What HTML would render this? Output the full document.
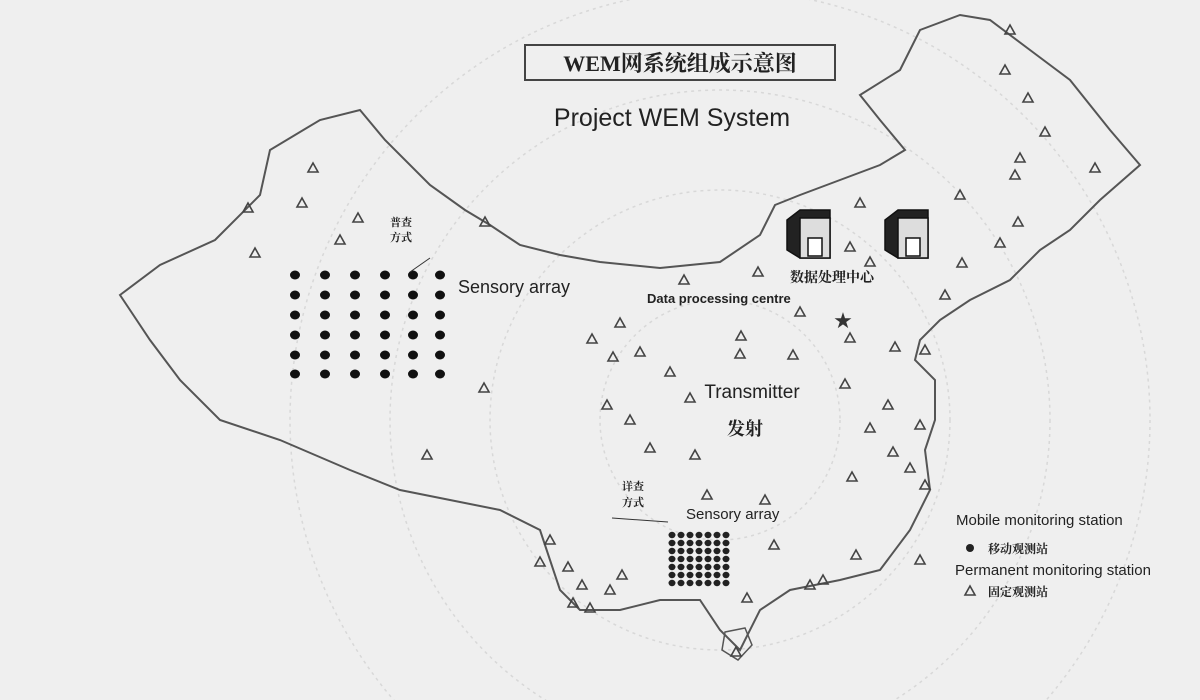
<!DOCTYPE html>
<html><head><meta charset="utf-8"><style>
html,body{margin:0;padding:0;background:#efefef;width:1200px;height:700px;overflow:hidden;}
svg{display:block;}
.en{font-family:"Liberation Sans",sans-serif;fill:#222;}
.cn{font-family:"Liberation Serif","Noto Serif CJK SC",serif;fill:#222;font-weight:bold;}
</style></head><body>
<svg width="1200" height="700" viewBox="0 0 1200 700" xmlns="http://www.w3.org/2000/svg">
<defs>
<g id="t"><path d="M0,-5 L5,4 L-5,4 Z" fill="none" stroke="#444" stroke-width="1.6"/></g>
<g id="d"><ellipse cx="0" cy="0" rx="5" ry="4.5" fill="#111"/></g>
<g id="s"><ellipse cx="0" cy="0" rx="3.5" ry="3.2" fill="#222"/></g>
</defs>
<rect width="1200" height="700" fill="#efefef"/>
<g fill="none" stroke="#d8d8d8" stroke-width="1.5" stroke-dasharray="3 4">
<circle cx="720" cy="420" r="120"/>
<circle cx="720" cy="420" r="230"/>
<circle cx="720" cy="420" r="330"/>
<circle cx="720" cy="420" r="430"/>
</g>
<path d="M120,295 L160,265 L215,240 L260,195 L270,150 L320,120 L360,110 L385,140 L430,185 L465,210 L490,225 L520,245 L560,255 L600,262 L660,268 L720,262 L760,235 L775,205 L800,195 L840,180 L880,165 L905,150 L880,120 L860,95 L900,70 L920,30 L960,15 L990,20 L1030,50 L1070,80 L1110,130 L1140,165 L1100,200 L1070,230 L1040,250 L1010,280 L970,300 L940,320 L920,340 L915,360 L935,380 L935,420 L925,450 L930,490 L910,530 L880,570 L840,580 L790,590 L760,610 L740,650 L720,630 L700,600 L660,600 L620,610 L580,610 L560,590 L550,560 L540,530 L500,510 L450,500 L400,490 L350,470 L280,440 L220,420 L180,380 L150,340 Z" fill="none" stroke="#555" stroke-width="2"/>
<path d="M725,632 L745,628 L752,645 L738,660 L722,650 Z" fill="none" stroke="#555" stroke-width="1.5"/>
<rect x="525" y="45" width="310" height="35" fill="none" stroke="#444" stroke-width="2"/>
<text x="680" y="71" class="cn" font-size="22" text-anchor="middle">WEM网系统组成示意图</text>
<text x="672" y="126" class="en" font-size="25" text-anchor="middle">Project WEM System</text>
<g>
<use href="#t" x="313" y="168"/><use href="#t" x="248" y="208"/><use href="#t" x="302" y="203"/><use href="#t" x="358" y="218"/><use href="#t" x="340" y="240"/><use href="#t" x="255" y="253"/><use href="#t" x="485" y="222"/><use href="#t" x="484" y="388"/><use href="#t" x="427" y="455"/>
<use href="#t" x="1010" y="30"/><use href="#t" x="1005" y="70"/><use href="#t" x="1028" y="98"/><use href="#t" x="1045" y="132"/><use href="#t" x="1020" y="158"/><use href="#t" x="1015" y="175"/><use href="#t" x="1095" y="168"/><use href="#t" x="960" y="195"/><use href="#t" x="1018" y="222"/><use href="#t" x="1000" y="243"/><use href="#t" x="962" y="263"/><use href="#t" x="945" y="295"/><use href="#t" x="860" y="203"/><use href="#t" x="850" y="247"/><use href="#t" x="870" y="262"/>
<use href="#t" x="684" y="280"/><use href="#t" x="758" y="272"/><use href="#t" x="800" y="312"/><use href="#t" x="620" y="323"/><use href="#t" x="592" y="339"/><use href="#t" x="741" y="336"/><use href="#t" x="740" y="354"/><use href="#t" x="850" y="338"/><use href="#t" x="613" y="357"/><use href="#t" x="640" y="352"/><use href="#t" x="670" y="372"/><use href="#t" x="793" y="355"/><use href="#t" x="895" y="347"/><use href="#t" x="925" y="350"/>
<use href="#t" x="607" y="405"/><use href="#t" x="630" y="420"/><use href="#t" x="690" y="398"/><use href="#t" x="845" y="384"/><use href="#t" x="888" y="405"/><use href="#t" x="870" y="428"/><use href="#t" x="920" y="425"/><use href="#t" x="650" y="448"/><use href="#t" x="695" y="455"/><use href="#t" x="893" y="452"/><use href="#t" x="910" y="468"/><use href="#t" x="852" y="477"/><use href="#t" x="925" y="485"/><use href="#t" x="707" y="495"/><use href="#t" x="765" y="500"/>
<use href="#t" x="550" y="540"/><use href="#t" x="540" y="562"/><use href="#t" x="568" y="567"/><use href="#t" x="582" y="585"/><use href="#t" x="573" y="603"/><use href="#t" x="590" y="608"/><use href="#t" x="610" y="590"/><use href="#t" x="622" y="575"/><use href="#t" x="774" y="545"/><use href="#t" x="856" y="555"/><use href="#t" x="810" y="585"/><use href="#t" x="823" y="580"/><use href="#t" x="747" y="598"/><use href="#t" x="920" y="560"/><use href="#t" x="736" y="652"/>
</g>
<g>
<use href="#d" x="295" y="275"/><use href="#d" x="325" y="275"/><use href="#d" x="355" y="275"/><use href="#d" x="385" y="275"/><use href="#d" x="413" y="275"/><use href="#d" x="440" y="275"/>
<use href="#d" x="295" y="295"/><use href="#d" x="325" y="295"/><use href="#d" x="355" y="295"/><use href="#d" x="385" y="295"/><use href="#d" x="413" y="295"/><use href="#d" x="440" y="295"/>
<use href="#d" x="295" y="315"/><use href="#d" x="325" y="315"/><use href="#d" x="355" y="315"/><use href="#d" x="385" y="315"/><use href="#d" x="413" y="315"/><use href="#d" x="440" y="315"/>
<use href="#d" x="295" y="335"/><use href="#d" x="325" y="335"/><use href="#d" x="355" y="335"/><use href="#d" x="385" y="335"/><use href="#d" x="413" y="335"/><use href="#d" x="440" y="335"/>
<use href="#d" x="295" y="355"/><use href="#d" x="325" y="355"/><use href="#d" x="355" y="355"/><use href="#d" x="385" y="355"/><use href="#d" x="413" y="355"/><use href="#d" x="440" y="355"/>
<use href="#d" x="295" y="374"/><use href="#d" x="325" y="374"/><use href="#d" x="355" y="374"/><use href="#d" x="385" y="374"/><use href="#d" x="413" y="374"/><use href="#d" x="440" y="374"/>
</g>
<text x="390" y="226" class="cn" font-size="11">普查</text><text x="390" y="241" class="cn" font-size="11">方式</text>
<line x1="430" y1="258" x2="410" y2="272" stroke="#333" stroke-width="1"/>
<text x="458" y="293" class="en" font-size="18">Sensory array</text>
<text x="622" y="490" class="cn" font-size="11">详查</text><text x="622" y="506" class="cn" font-size="11">方式</text>
<line x1="612" y1="518" x2="668" y2="522" stroke="#333" stroke-width="1"/>
<text x="686" y="519" class="en" font-size="15">Sensory array</text>
<text x="752" y="398" class="en" font-size="19" text-anchor="middle">Transmitter</text>
<text x="745" y="435" class="cn" font-size="18" text-anchor="middle">发射</text>
<g stroke="#111" stroke-width="1.5">
<path d="M787,220 L800,210 L830,210 L830,258 L800,258 L787,250 Z" fill="#222"/><rect x="800" y="218" width="30" height="40" fill="#ddd"/><rect x="808" y="238" width="14" height="18" fill="#fff"/>
<path d="M885,220 L898,210 L928,210 L928,258 L898,258 L885,250 Z" fill="#222"/><rect x="898" y="218" width="30" height="40" fill="#ddd"/><rect x="906" y="238" width="14" height="18" fill="#fff"/>
</g>
<text x="790" y="282" class="cn" font-size="14">数据处理中心</text>
<text x="647" y="303" class="en" font-size="13" font-weight="bold">Data processing centre</text>
<text x="843" y="328" font-size="22" fill="#333" text-anchor="middle" font-family="DejaVu Sans">★</text>
<text x="956" y="525" class="en" font-size="15">Mobile monitoring station</text>
<circle cx="970" cy="548" r="4" fill="#222"/>
<text x="988" y="553" class="cn" font-size="12">移动观测站</text>
<text x="955" y="575" class="en" font-size="15">Permanent monitoring station</text>
<use href="#t" x="970" y="591"/>
<text x="988" y="596" class="cn" font-size="12">固定观测站</text>
<g>
<use href="#s" x="672" y="535"/><use href="#s" x="681" y="535"/><use href="#s" x="690" y="535"/><use href="#s" x="699" y="535"/><use href="#s" x="708" y="535"/><use href="#s" x="717" y="535"/><use href="#s" x="726" y="535"/>
<use href="#s" x="672" y="543"/><use href="#s" x="681" y="543"/><use href="#s" x="690" y="543"/><use href="#s" x="699" y="543"/><use href="#s" x="708" y="543"/><use href="#s" x="717" y="543"/><use href="#s" x="726" y="543"/>
<use href="#s" x="672" y="551"/><use href="#s" x="681" y="551"/><use href="#s" x="690" y="551"/><use href="#s" x="699" y="551"/><use href="#s" x="708" y="551"/><use href="#s" x="717" y="551"/><use href="#s" x="726" y="551"/>
<use href="#s" x="672" y="559"/><use href="#s" x="681" y="559"/><use href="#s" x="690" y="559"/><use href="#s" x="699" y="559"/><use href="#s" x="708" y="559"/><use href="#s" x="717" y="559"/><use href="#s" x="726" y="559"/>
<use href="#s" x="672" y="567"/><use href="#s" x="681" y="567"/><use href="#s" x="690" y="567"/><use href="#s" x="699" y="567"/><use href="#s" x="708" y="567"/><use href="#s" x="717" y="567"/><use href="#s" x="726" y="567"/>
<use href="#s" x="672" y="575"/><use href="#s" x="681" y="575"/><use href="#s" x="690" y="575"/><use href="#s" x="699" y="575"/><use href="#s" x="708" y="575"/><use href="#s" x="717" y="575"/><use href="#s" x="726" y="575"/>
<use href="#s" x="672" y="583"/><use href="#s" x="681" y="583"/><use href="#s" x="690" y="583"/><use href="#s" x="699" y="583"/><use href="#s" x="708" y="583"/><use href="#s" x="717" y="583"/><use href="#s" x="726" y="583"/>
</g>
</svg>
</body></html>
